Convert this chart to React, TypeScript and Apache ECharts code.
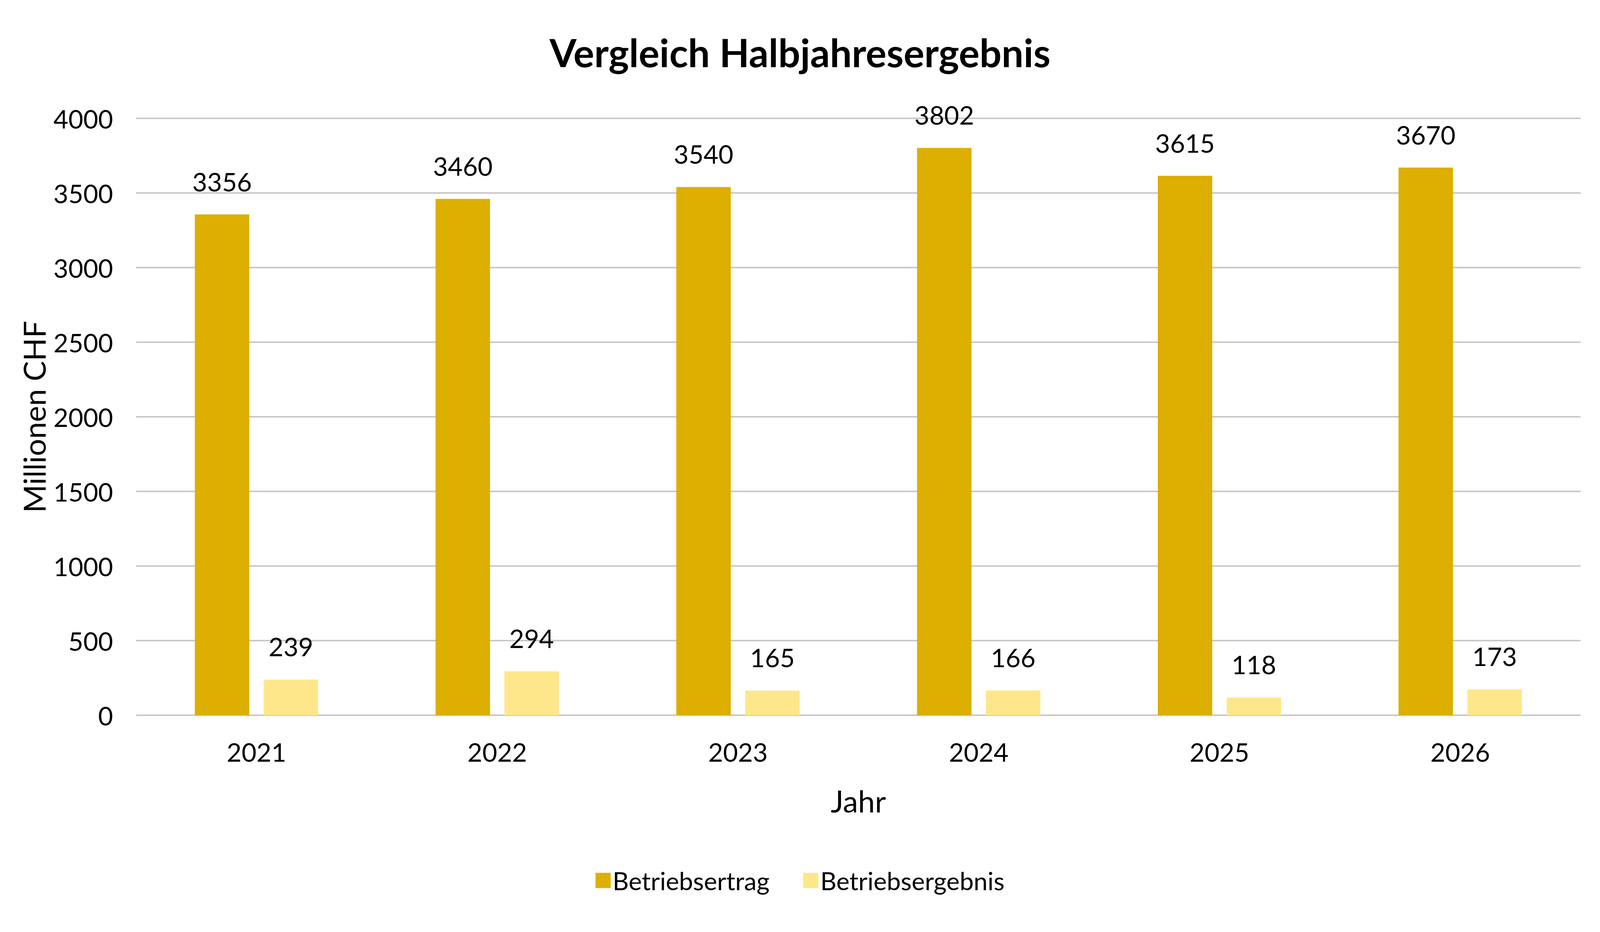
import React, { useEffect, useRef } from "react";
import * as echarts from "echarts";

const categories = ["2021", "2022", "2023", "2024", "2025", "2026"];
const betriebsertrag = [3356, 3460, 3540, 3802, 3615, 3670];
const betriebsergebnis = [239, 294, 165, 166, 118, 173];
const seriesNames = ["Betriebsertrag", "Betriebsergebnis"];
const titleText = "Vergleich Halbjahresergebnis";
const yAxisName = "Millionen CHF";
const xAxisName = "Jahr";

const FONT = "Lato, 'Open Sans', sans-serif";

export default function App() {
  const ref = useRef<HTMLDivElement>(null);
  useEffect(() => {
    document.body.style.margin = "0";
    document.body.style.overflow = "hidden";
    const W = window.innerWidth || 5760;
    const H = window.innerHeight || 2386;
    const el = ref.current!;
    el.style.width = W + "px";
    el.style.height = H + "px";
    const sx = W / 5760;
    const sy = H / 2386;
    const f = Math.sqrt(sx * sy);
    const chart = echarts.init(el, null, { renderer: "svg" });
    chart.setOption({
      animation: false,
      backgroundColor: "#ffffff",
      textStyle: { fontFamily: FONT, color: "#000" },
      title: {
        text: titleText,
        left: "center",
        top: 78 * sy,
        textStyle: { fontFamily: FONT, fontWeight: "bold", fontSize: 118 * f, color: "#000" },
      },
      legend: {
        data: seriesNames,
        bottom: 95 * sy,
        left: "center",
        itemWidth: 46 * f,
        itemHeight: 46 * f,
        itemGap: 121 * sx,
        icon: "rect",
        textStyle: { fontFamily: FONT, fontSize: 76 * f, color: "#000" },
      },
      grid: { left: 490 * sx, right: 70 * sx, top: 303 * sy, bottom: 555 * sy, containLabel: false },
      xAxis: {
        type: "category",
        data: categories,
        name: xAxisName,
        nameLocation: "middle",
        nameGap: 180 * sy,
        nameTextStyle: { fontFamily: FONT, fontSize: 92 * f, color: "#000" },
        axisLine: { show: false },
        axisTick: { show: false },
        axisLabel: { fontFamily: FONT, fontSize: 78 * f, color: "#000", margin: 60 * sy },
      },
      yAxis: {
        type: "value",
        min: 0,
        max: 4000,
        interval: 500,
        name: yAxisName,
        nameLocation: "middle",
        nameGap: 258 * sx,
        nameTextStyle: { fontFamily: FONT, fontSize: 92 * f, color: "#000" },
        axisLine: { show: false },
        axisTick: { show: false },
        axisLabel: {
          fontFamily: FONT,
          fontSize: 78 * f,
          color: "#000",
          margin: 83 * sx,
          formatter: (v: number) => String(v),
        },
        splitLine: { lineStyle: { color: "#c9c9c6", width: 4.5 * f } },
      },
      series: [
        {
          name: seriesNames[0],
          type: "bar",
          data: betriebsertrag,
          barWidth: 196 * sx,
          barGap: "26.5%",
          itemStyle: { color: "#dcaf00" },
          label: { show: true, position: "top", distance: 52 * sy, fontFamily: FONT, fontSize: 78 * f, color: "#000" },
        },
        {
          name: seriesNames[1],
          type: "bar",
          data: betriebsergebnis,
          barWidth: 196 * sx,
          itemStyle: { color: "#fee78a" },
          label: { show: true, position: "top", distance: 52 * sy, fontFamily: FONT, fontSize: 78 * f, color: "#000" },
        },
      ],
    });
    return () => chart.dispose();
  }, []);
  return <div ref={ref} style={{ width: 5760, height: 2386 }} />;
}
